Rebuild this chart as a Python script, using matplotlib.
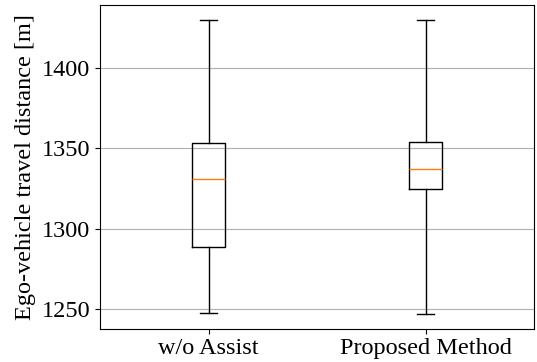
import matplotlib.pyplot as plt

plt.rcParams['font.family'] = ['Liberation Serif', 'DejaVu Serif']

labels = ['w/o Assist', 'Proposed Method']
whislo = [1247.3, 1247.0]
q1 = [1288.8, 1324.4]
med = [1330.9, 1337.1]
q3 = [1353.1, 1354.0]
whishi = [1430.0, 1429.8]

stats = []
for i in range(len(labels)):
    stats.append({'label': labels[i], 'whislo': whislo[i], 'q1': q1[i],
                  'med': med[i], 'q3': q3[i], 'whishi': whishi[i], 'fliers': []})

fig = plt.figure(figsize=(5.37, 3.62), dpi=100)
ax = fig.add_axes([100 / 537, 1 - 328.5 / 362, 434 / 537, 323.5 / 362])
ax.bxp(stats)
ax.set_ylabel('Ego-vehicle travel distance [m]', fontsize=17.5)
ax.tick_params(labelsize=17.5)
ax.yaxis.grid(True, color='#b0b0b0', linewidth=0.8)
ax.set_axisbelow(True)
ax.set_yticks([1250, 1300, 1350, 1400])
fig.savefig('out.png', dpi=100)
